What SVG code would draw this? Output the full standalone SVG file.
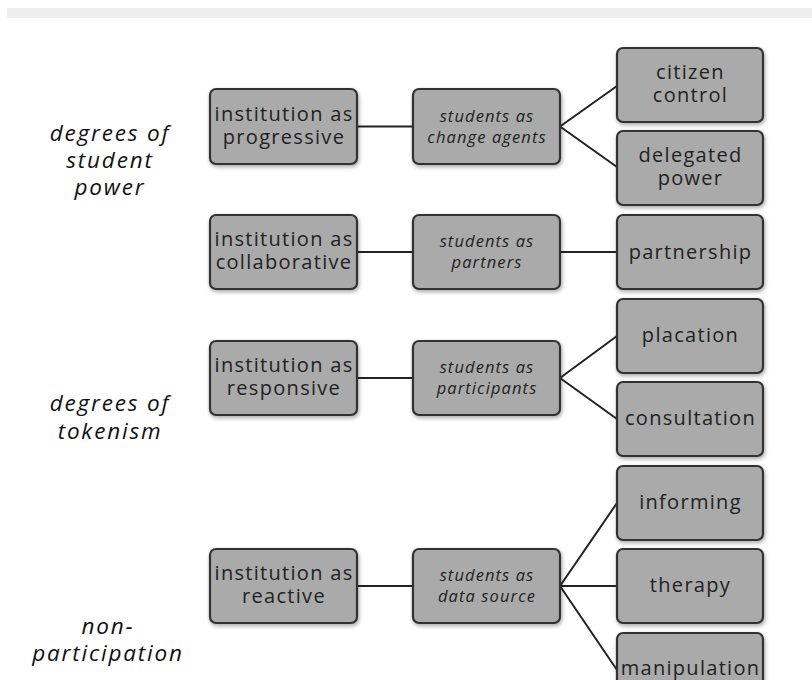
<svg xmlns="http://www.w3.org/2000/svg" width="812" height="680" viewBox="0 0 812 680">
<defs>
<filter id="sh" x="-10%" y="-10%" width="125%" height="130%">
<feGaussianBlur in="SourceAlpha" stdDeviation="2"/>
<feOffset dx="1" dy="2" result="b"/>
<feComponentTransfer><feFuncA type="linear" slope="0.35"/></feComponentTransfer>
<feMerge><feMergeNode/><feMergeNode in="SourceGraphic"/></feMerge>
</filter>
</defs>
<style>
.box{fill:#aaaaaa;stroke:#333333;stroke-width:2.2;filter:url(#sh)}
.t{font-family:"Open Sans","DejaVu Sans",sans-serif;font-size:20px;letter-spacing:1.3px;fill:#222;text-anchor:middle}
.m{font-family:"Open Sans","DejaVu Sans",sans-serif;font-size:16.5px;letter-spacing:1.1px;font-style:italic;fill:#222;text-anchor:middle}
.lab{font-family:"Open Sans","DejaVu Sans",sans-serif;font-size:22.5px;letter-spacing:1.8px;font-style:italic;fill:#111;text-anchor:middle}
.c{stroke:#222;stroke-width:2;fill:none}
</style>
<rect x="0" y="0" width="812" height="680" fill="#ffffff"/>
<rect x="7" y="8" width="805" height="10" fill="#eeeeee"/>

<g id="labels">
<text class="lab" x="110" y="141">degrees of</text>
<text class="lab" x="110" y="168">student</text>
<text class="lab" x="110" y="195">power</text>
<text class="lab" x="110" y="411">degrees of</text>
<text class="lab" x="110" y="439">tokenism</text>
<text class="lab" x="108" y="634">non-</text>
<text class="lab" x="108" y="661">participation</text>
</g>

<g id="connectors">
<line class="c" x1="357" y1="126.5" x2="413" y2="126.5"/>
<line class="c" x1="560" y1="126.5" x2="617" y2="86"/>
<line class="c" x1="560" y1="126.5" x2="617" y2="167"/>
<line class="c" x1="357" y1="252" x2="413" y2="252"/>
<line class="c" x1="560" y1="252" x2="617" y2="252"/>
<line class="c" x1="357" y1="378" x2="413" y2="378"/>
<line class="c" x1="560" y1="378" x2="617" y2="336"/>
<line class="c" x1="560" y1="378" x2="617" y2="419"/>
<line class="c" x1="357" y1="586" x2="413" y2="586"/>
<line class="c" x1="560" y1="586" x2="617" y2="503"/>
<line class="c" x1="560" y1="586" x2="617" y2="586"/>
<line class="c" x1="560" y1="586" x2="617" y2="670"/>
</g>

<g id="inst-progressive"><rect class="box" x="210" y="89" width="147" height="75" rx="6"/>
<text class="t" x="284" y="121">institution as</text><text class="t" x="284" y="144">progressive</text></g>
<g id="stud-change"><rect class="box" x="413" y="89" width="147" height="75" rx="6"/>
<text class="m" x="487" y="122">students as</text><text class="m" x="487" y="143">change agents</text></g>
<g id="citizen-control"><rect class="box" x="617" y="48" width="146" height="74" rx="6"/>
<text class="t" x="690.5" y="79">citizen</text><text class="t" x="690.5" y="102">control</text></g>
<g id="delegated-power"><rect class="box" x="617" y="131" width="146" height="74" rx="6"/>
<text class="t" x="690.5" y="162">delegated</text><text class="t" x="690.5" y="185">power</text></g>

<g id="inst-collaborative"><rect class="box" x="210" y="215" width="147" height="74" rx="6"/>
<text class="t" x="284" y="246">institution as</text><text class="t" x="284" y="269">collaborative</text></g>
<g id="stud-partners"><rect class="box" x="413" y="215" width="147" height="74" rx="6"/>
<text class="m" x="487" y="247">students as</text><text class="m" x="487" y="268">partners</text></g>
<g id="partnership"><rect class="box" x="617" y="215" width="146" height="74" rx="6"/>
<text class="t" x="690.5" y="259">partnership</text></g>

<g id="inst-responsive"><rect class="box" x="210" y="341" width="147" height="74" rx="6"/>
<text class="t" x="284" y="372">institution as</text><text class="t" x="284" y="395">responsive</text></g>
<g id="stud-participants"><rect class="box" x="413" y="341" width="147" height="74" rx="6"/>
<text class="m" x="487" y="373">students as</text><text class="m" x="487" y="394">participants</text></g>
<g id="placation"><rect class="box" x="617" y="299" width="146" height="74" rx="6"/>
<text class="t" x="690.5" y="342">placation</text></g>
<g id="consultation"><rect class="box" x="617" y="382" width="146" height="74" rx="6"/>
<text class="t" x="690.5" y="425">consultation</text></g>

<g id="inst-reactive"><rect class="box" x="210" y="549" width="147" height="74" rx="6"/>
<text class="t" x="284" y="580">institution as</text><text class="t" x="284" y="603">reactive</text></g>
<g id="stud-data"><rect class="box" x="413" y="549" width="147" height="74" rx="6"/>
<text class="m" x="487" y="581">students as</text><text class="m" x="487" y="602">data source</text></g>
<g id="informing"><rect class="box" x="617" y="466" width="146" height="74" rx="6"/>
<text class="t" x="690.5" y="509">informing</text></g>
<g id="therapy"><rect class="box" x="617" y="549" width="146" height="74" rx="6"/>
<text class="t" x="690.5" y="592">therapy</text></g>
<g id="manipulation"><rect class="box" x="617" y="633" width="146" height="74" rx="6"/>
<text class="t" x="690.5" y="675">manipulation</text></g>
</svg>
